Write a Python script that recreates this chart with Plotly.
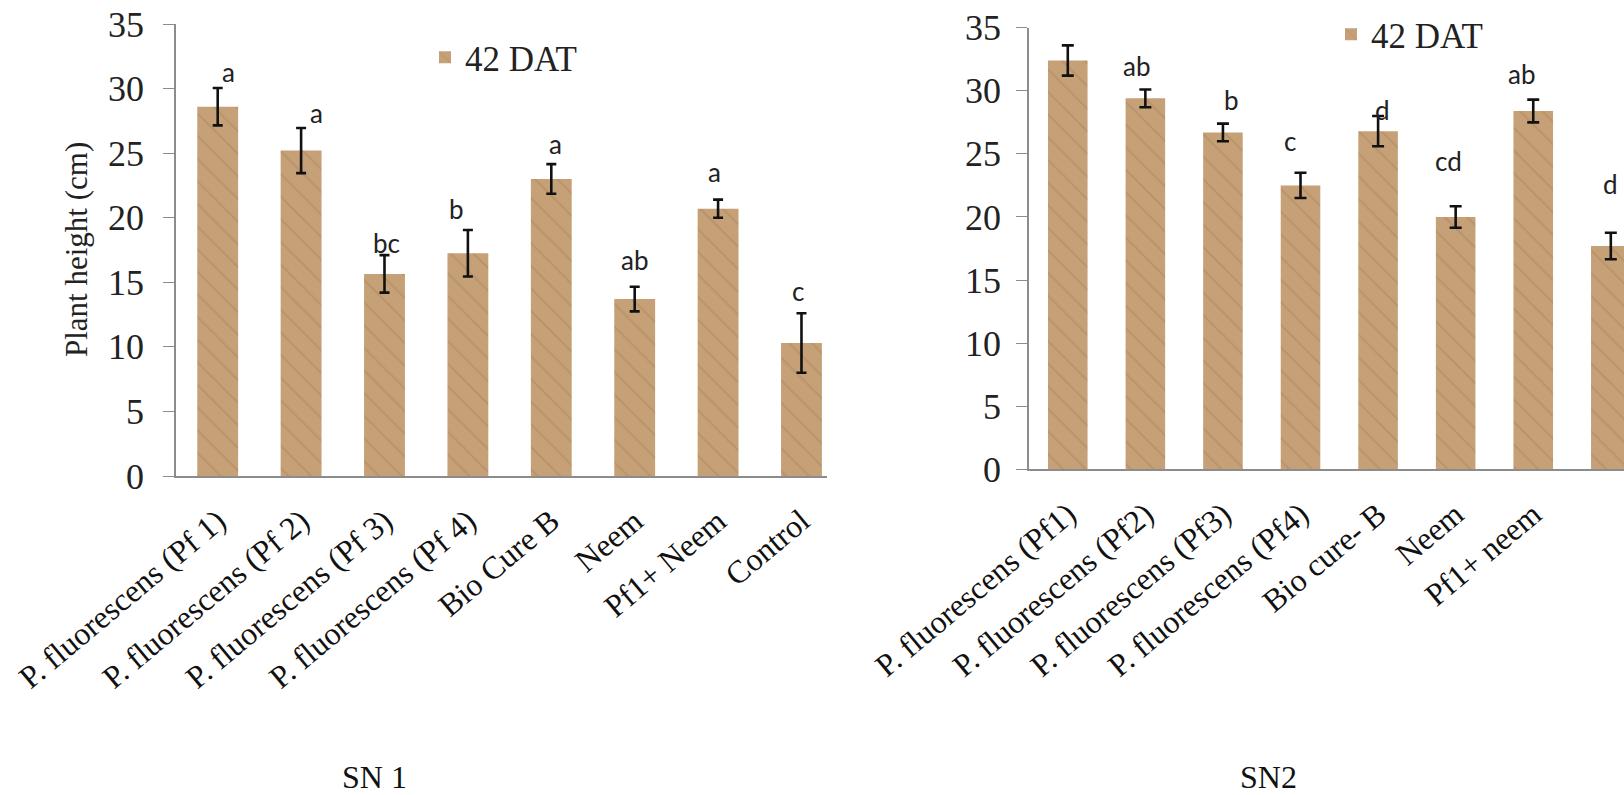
import plotly.graph_objects as go

# Treatments for each trial
sn1_labels = ["P. fluorescens (Pf 1)", "P. fluorescens (Pf 2)", "P. fluorescens (Pf 3)",
              "P. fluorescens (Pf 4)", "Bio Cure B", "Neem", "Pf1+ Neem", "Control"]
sn2_labels = ["P. fluorescens (Pf1)", "P. fluorescens (Pf2)", "P. fluorescens (Pf3)",
              "P. fluorescens (Pf4)", "Bio cure- B", "Neem", "Pf1+ neem", "Control"]

# Plant height (cm) at 42 DAT, with standard errors
sn1_height = [28.6, 25.2, 15.65, 17.25, 23.0, 13.7, 20.7, 10.3]
sn1_err = [1.45, 1.75, 1.45, 1.8, 1.15, 0.95, 0.7, 2.3]
sn2_height = [32.4, 29.4, 26.7, 22.5, 26.8, 20.0, 28.4, 17.7]
sn2_err = [1.2, 0.7, 0.7, 1.0, 1.2, 0.85, 0.9, 1.05]

# Significance letters
sn1_letters = ["a", "a", "bc", "b", "a", "ab", "a", "c"]
sn2_letters = ["", "ab", "b", "c", "d", "cd", "ab", "d"]

series_name = "42 DAT"
panel_titles = ["SN 1", "SN2"]
y_title = "Plant height (cm)"

# letter placement offsets in pixels (dx, dy above error-bar top)
sn1_offsets = [(11, 16), (15, 15), (2, 12), (-11, 21), (4, 20), (0, 27), (-4, 28), (-3, 22)]
sn2_offsets = [(0, 0), (-9, 24), (9, 24), (-11, 32), (4, 6), (-7, 45), (-12, 26), (0, 49)]

BAR = "#c6a076"
SERIF = "Liberation Serif, Times New Roman, serif"
SANS = "Lato, Open Sans, sans-serif"
AXIS = "#8c8c8c"

bar_marker = dict(color=BAR, line=dict(width=0),
                  pattern=dict(shape="\\", fgcolor="#8a6440", fgopacity=0.22,
                               size=16, solidity=0.12))

fig = go.Figure()

fig.add_trace(go.Bar(
    x=list(range(len(sn1_labels))), y=sn1_height, name=series_name,
    width=0.49, marker=bar_marker,
    error_y=dict(type="data", array=sn1_err, color="#111111", thickness=2.6, width=5),
    xaxis="x", yaxis="y", legend="legend",
))
fig.add_trace(go.Bar(
    x=list(range(len(sn2_labels))), y=sn2_height, name=series_name,
    width=0.51, marker=bar_marker,
    error_y=dict(type="data", array=sn2_err, color="#111111", thickness=2.6, width=6),
    xaxis="x2", yaxis="y2", legend="legend2",
))

annotations = []
for i, (v, e, t) in enumerate(zip(sn1_height, sn1_err, sn1_letters)):
    dx, dy = sn1_offsets[i]
    annotations.append(dict(x=i, y=v + e, xref="x", yref="y", text=t, showarrow=False,
                            xshift=dx, yshift=dy, xanchor="center", yanchor="middle",
                            font=dict(family=SANS, size=26, color="#222222")))
for i, (v, e, t) in enumerate(zip(sn2_height, sn2_err, sn2_letters)):
    if not t:
        continue
    dx, dy = sn2_offsets[i]
    annotations.append(dict(x=i, y=v + e, xref="x2", yref="y2", text=t, showarrow=False,
                            xshift=dx, yshift=dy, xanchor="center", yanchor="middle",
                            font=dict(family=SANS, size=26, color="#222222")))

annotations.append(dict(x=77 / 1624, y=1 - 250 / 795, xref="paper", yref="paper",
                        xanchor="center", yanchor="middle",
                        text=y_title, textangle=-90, showarrow=False,
                        font=dict(family=SERIF, size=31, color="#222222")))
annotations.append(dict(x=374 / 1624, y=1 - 777 / 795, xref="paper", yref="paper",
                        xanchor="center", yanchor="middle",
                        text=panel_titles[0], showarrow=False,
                        font=dict(family=SERIF, size=32, color="#111111")))
annotations.append(dict(x=1268 / 1624, y=1 - 777 / 795, xref="paper", yref="paper",
                        xanchor="center", yanchor="middle",
                        text=panel_titles[1], showarrow=False,
                        font=dict(family=SERIF, size=32, color="#111111")))

xcommon = dict(tickmode="array", ticks="", showgrid=False, zeroline=False, automargin=False,
               showline=True, linecolor=AXIS, linewidth=1.5, tickangle=-40,
               ticklabelstandoff=12,
               tickfont=dict(family=SERIF, size=32, color="#111111"))
ycommon = dict(range=[0, 35], dtick=5, ticks="outside", ticklen=11, tickcolor=AXIS,
               showgrid=False, zeroline=False, showline=True, linecolor=AXIS, linewidth=1.5,
               automargin=False,
               tickfont=dict(family=SERIF, size=36, color="#222222"))

fig.update_layout(
    width=1624, height=795,
    margin=dict(l=0, r=0, t=0, b=0, autoexpand=False),
    paper_bgcolor="white", plot_bgcolor="white",
    bargap=0.5,
    xaxis=dict(domain=[176 / 1624, 826.5 / 1624], range=[-0.5, 7.3],
               tickvals=list(range(8)), ticktext=sn1_labels, anchor="y", **xcommon),
    yaxis=dict(domain=[1 - 476 / 795, 1 - 24 / 795], anchor="x",
               ticklabelstandoff=12, **ycommon),
    xaxis2=dict(domain=[1029 / 1624, 1.0], range=[-0.5, 7.17],
                tickvals=list(range(8)), ticktext=sn2_labels, anchor="y2", **xcommon),
    yaxis2=dict(domain=[1 - 469.3 / 795, 1 - 27.7 / 795], anchor="x2",
                ticklabelstandoff=8, **ycommon),
    legend=dict(x=425 / 1624, y=1 - 28 / 795, xanchor="left", yanchor="top",
                bgcolor="rgba(0,0,0,0)", font=dict(family=SERIF, size=35, color="#222222")),
    legend2=dict(x=1331 / 1624, y=1 - 5 / 795, xanchor="left", yanchor="top",
                 bgcolor="rgba(0,0,0,0)", font=dict(family=SERIF, size=35, color="#222222")),
    annotations=annotations,
    showlegend=True,
)

fig.write_html("out.html")
